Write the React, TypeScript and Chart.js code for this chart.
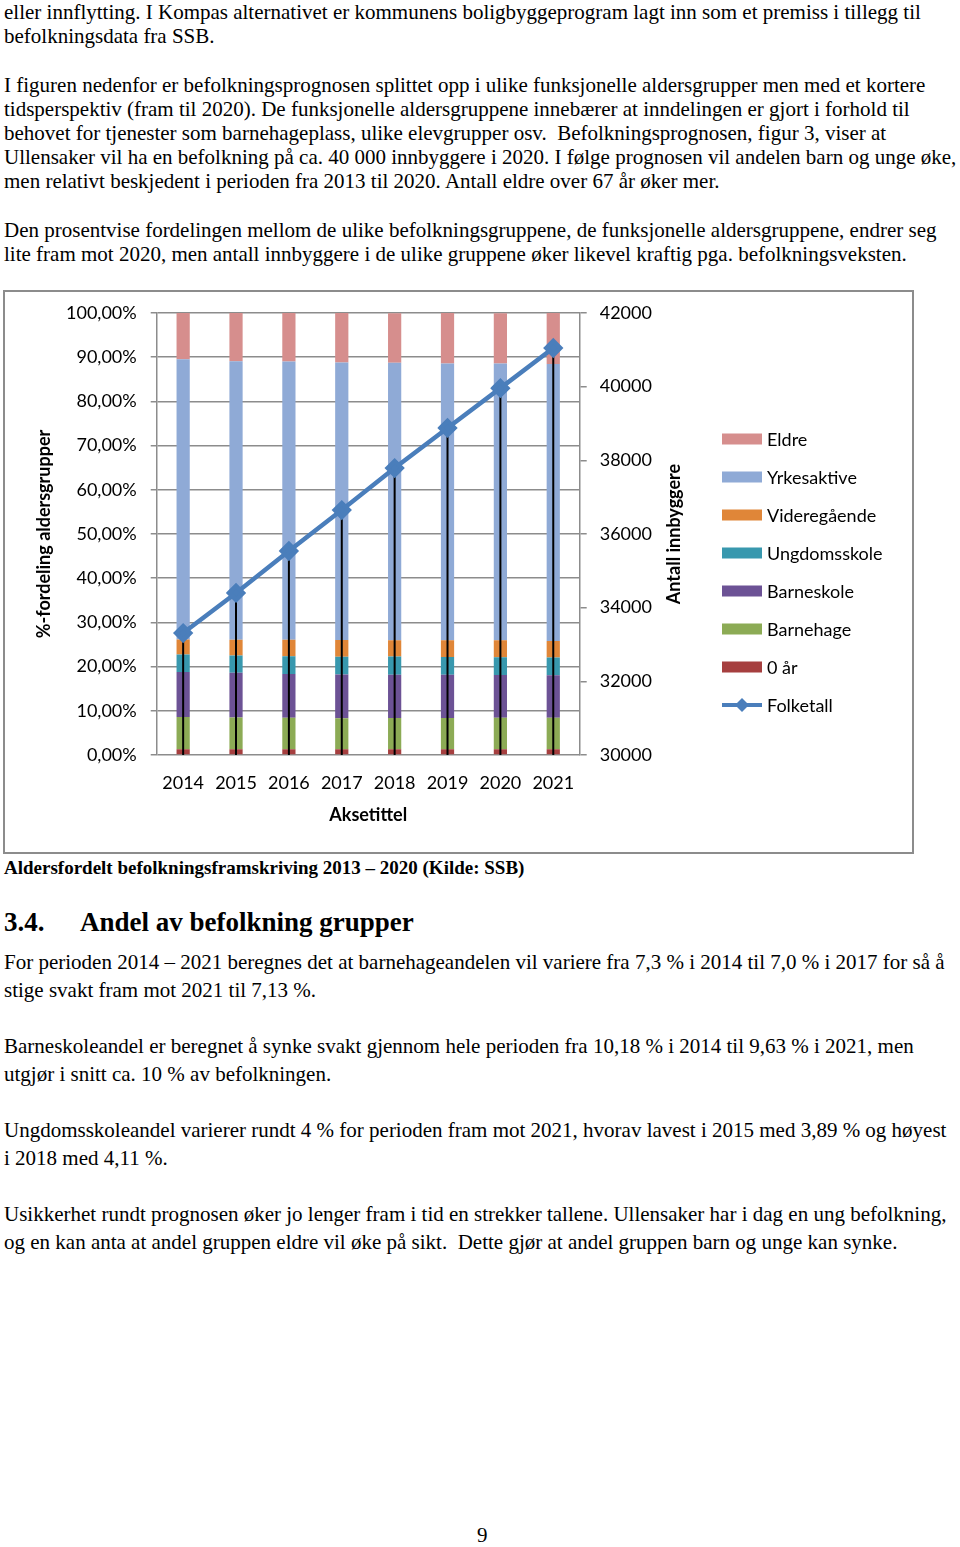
import React, { useEffect, useRef } from "react";
import { Chart, registerables } from "chart.js";

Chart.register(...registerables);

// ---------- data ----------
const years = ["2014", "2015", "2016", "2017", "2018", "2019", "2020", "2021"];
const nullAar = [1.3, 1.3, 1.3, 1.3, 1.3, 1.3, 1.3, 1.3];
const barnehage = [7.3, 7.2, 7.1, 7.0, 7.05, 7.08, 7.1, 7.13];
const barneskole = [10.18, 10.1, 9.95, 9.9, 9.8, 9.75, 9.7, 9.63];
const ungdomsskole = [3.95, 3.89, 4.0, 4.05, 4.11, 4.05, 4.0, 4.02];
const videregaaende = [3.4, 3.6, 3.75, 3.75, 3.7, 3.8, 3.85, 3.7];
const yrkesaktive = [63.4, 63.0, 62.9, 62.8, 62.8, 62.6, 62.6, 62.7];
const eldre = [10.5, 10.9, 11.0, 11.2, 11.2, 11.4, 11.4, 11.5];
const folketall = [33310, 34400, 35540, 36650, 37790, 38880, 39960, 41050];

const leftTitle = "%-fordeling aldersgrupper";
const rightTitle = "Antall innbyggere";
const xTitle = "Aksetittel";

const para1 = [
  "eller innflytting. I Kompas alternativet er kommunens boligbyggeprogram lagt inn som et premiss i tillegg til",
  "befolkningsdata fra SSB.",
];
const para2 = [
  "I figuren nedenfor er befolkningsprognosen splittet opp i ulike funksjonelle aldersgrupper men med et kortere",
  "tidsperspektiv (fram til 2020). De funksjonelle aldersgruppene innebærer at inndelingen er gjort i forhold til",
  "behovet for tjenester som barnehageplass, ulike elevgrupper osv.  Befolkningsprognosen, figur 3, viser at",
  "Ullensaker vil ha en befolkning på ca. 40 000 innbyggere i 2020. I følge prognosen vil andelen barn og unge øke,",
  "men relativt beskjedent i perioden fra 2013 til 2020. Antall eldre over 67 år øker mer.",
];
const para3 = [
  "Den prosentvise fordelingen mellom de ulike befolkningsgruppene, de funksjonelle aldersgruppene, endrer seg",
  "lite fram mot 2020, men antall innbyggere i de ulike gruppene øker likevel kraftig pga. befolkningsveksten.",
];
const caption = "Aldersfordelt befolkningsframskriving 2013 – 2020 (Kilde: SSB)";
const headingNum = "3.4.";
const headingText = "Andel av befolkning grupper";
const para4 = [
  "For perioden 2014 – 2021 beregnes det at barnehageandelen vil variere fra 7,3 % i 2014 til 7,0 % i 2017 for så å",
  "stige svakt fram mot 2021 til 7,13 %.",
];
const para5 = [
  "Barneskoleandel er beregnet å synke svakt gjennom hele perioden fra 10,18 % i 2014 til 9,63 % i 2021, men",
  "utgjør i snitt ca. 10 % av befolkningen.",
];
const para6 = [
  "Ungdomsskoleandel varierer rundt 4 % for perioden fram mot 2021, hvorav lavest i 2015 med 3,89 % og høyest",
  "i 2018 med 4,11 %.",
];
const para7 = [
  "Usikkerhet rundt prognosen øker jo lenger fram i tid en strekker tallene. Ullensaker har i dag en ung befolkning,",
  "og en kan anta at andel gruppen eldre vil øke på sikt.  Dette gjør at andel gruppen barn og unge kan synke.",
];

const COLORS = {
  nullAar: "#A63F3F",
  barnehage: "#8CAB55",
  barneskole: "#6C5295",
  ungdomsskole: "#3898AE",
  videregaaende: "#E08638",
  yrkesaktive: "#8FAAD6",
  eldre: "#D68E8D",
  line: "#4A7EBB",
  grid: "#8c8c8c",
};

const RIGHT_TITLE_OUT = 16.5;
const LEGEND_GAP = 21;
const LEGEND_SPACING = 38;

const dropLines = {
  id: "dropLines",
  beforeDatasetDraw(chart: any, args: any) {
    if (args.index !== 0) return;
    const meta = chart.getDatasetMeta(0);
    const bottom = chart.chartArea.bottom;
    const ctx = chart.ctx;
    ctx.save();
    ctx.strokeStyle = "#000";
    ctx.lineWidth = 2;
    meta.data.forEach((p: any) => {
      ctx.beginPath();
      ctx.moveTo(p.x, p.y);
      ctx.lineTo(p.x, bottom);
      ctx.stroke();
    });
    ctx.restore();
  },
};

const rightTitlePlugin = {
  id: "rightTitle",
  afterDraw(chart: any) {
    const s = chart.scales.y1;
    const ctx = chart.ctx;
    const area = chart.chartArea;
    ctx.save();
    ctx.font = "bold 18px Lato";
    ctx.fillStyle = "#000";
    ctx.textAlign = "center";
    ctx.textBaseline = "middle";
    ctx.translate(s.right - RIGHT_TITLE_OUT - 10.8, (area.top + area.bottom) / 2);
    ctx.rotate(-Math.PI / 2);
    ctx.fillText(rightTitle, 0, 0);
    ctx.restore();
  },
};

const legendPlugin = {
  id: "sideLegend",
  afterDraw(chart: any) {
    const ctx = chart.ctx;
    const s = chart.scales.y1;
    const boxLeft = s.right + LEGEND_GAP;
    const ds = chart.data.datasets.map((d: any, i: number) => ({ d, i })).reverse();
    const n = ds.length;
    const cy0 = chart.height / 2 - ((n - 1) / 2) * LEGEND_SPACING;
    ctx.save();
    ctx.font = "18px Lato";
    ctx.textBaseline = "middle";
    ctx.textAlign = "left";
    ds.forEach(({ d }: any, k: number) => {
      const cy = cy0 + k * LEGEND_SPACING;
      const color = d.backgroundColor as string;
      if (d.type === "line") {
        ctx.strokeStyle = color;
        ctx.lineWidth = 4;
        ctx.beginPath();
        ctx.moveTo(boxLeft, cy);
        ctx.lineTo(boxLeft + 40, cy);
        ctx.stroke();
        ctx.fillStyle = color;
        ctx.beginPath();
        ctx.moveTo(boxLeft + 20, cy - 7);
        ctx.lineTo(boxLeft + 27, cy);
        ctx.lineTo(boxLeft + 20, cy + 7);
        ctx.lineTo(boxLeft + 13, cy);
        ctx.closePath();
        ctx.fill();
      } else {
        ctx.fillStyle = color;
        ctx.fillRect(boxLeft, cy - 5.5, 40, 11);
      }
      ctx.fillStyle = "#000";
      ctx.fillText(d.label, boxLeft + 45, cy + 1);
    });
    ctx.restore();
  },
};

function ChartBox() {
  const ref = useRef<HTMLCanvasElement>(null);
  useEffect(() => {
    if (!ref.current) return;
    Chart.defaults.font.family = "Lato";
    Chart.defaults.font.size = 18;
    Chart.defaults.color = "#000";
    const barDs = (label: string, data: number[], color: string) => ({
      type: "bar" as const,
      label,
      data,
      backgroundColor: color,
      borderWidth: 0,
      yAxisID: "y",
      barPercentage: 0.25,
      categoryPercentage: 1,
    });
    const chart = new Chart(ref.current, {
      data: {
        labels: years,
        datasets: [
          {
            type: "line",
            label: "Folketall",
            data: folketall,
            yAxisID: "y1",
            borderColor: COLORS.line,
            backgroundColor: COLORS.line,
            borderWidth: 4.5,
            pointStyle: "rectRot",
            pointRadius: 7,
            pointBackgroundColor: COLORS.line,
            pointBorderColor: COLORS.line,
            tension: 0,
          } as any,
          barDs("0 år", nullAar, COLORS.nullAar),
          barDs("Barnehage", barnehage, COLORS.barnehage),
          barDs("Barneskole", barneskole, COLORS.barneskole),
          barDs("Ungdomsskole", ungdomsskole, COLORS.ungdomsskole),
          barDs("Videregående", videregaaende, COLORS.videregaaende),
          barDs("Yrkesaktive", yrkesaktive, COLORS.yrkesaktive),
          barDs("Eldre", eldre, COLORS.eldre),
        ],
      },
      options: {
        responsive: false,
        animation: false,
        layout: { padding: { left: 20, right: 211, top: 21, bottom: 26.2 } },
        plugins: {
          tooltip: { enabled: false },
          legend: { display: false },
        },
        scales: {
          x: {
            stacked: true,
            grid: { display: false, drawTicks: false },
            border: { display: false },
            ticks: { padding: 17, color: "#000", font: { size: 18 } },
            title: {
              display: true,
              text: xTitle,
              color: "#000",
              font: { size: 18, weight: "bold" },
              padding: { top: 10.6, bottom: 0 },
            },
            afterFit: (s: any) => {
              s.height -= 17;
            },
          },
          y: {
            stacked: true,
            position: "left",
            min: 0,
            max: 100,
            ticks: {
              stepSize: 10,
              padding: 14,
              color: "#000",
              font: { size: 18 },
              callback: (v: any) => Number(v).toFixed(2).replace(".", ",") + "%",
            },
            grid: { color: COLORS.grid, lineWidth: 1.5, tickLength: 6 },
            border: { color: COLORS.grid, width: 1.5 },
            title: {
              display: true,
              text: leftTitle,
              color: "#000",
              font: { size: 18, weight: "bold" },
              padding: { top: 8, bottom: 11.4 },
            },
            afterFit: (s: any) => {
              s.width -= 14;
              s.paddingTop = 11;
              s.paddingBottom = 11;
            },
          },
          y1: {
            position: "right",
            min: 30000,
            max: 42000,
            ticks: {
              stepSize: 2000,
              padding: 13,
              color: "#000",
              font: { size: 18 },
              callback: (v: any) => String(v),
            },
            grid: { drawOnChartArea: false, color: COLORS.grid, lineWidth: 1.5, tickLength: 7 },
            border: { color: COLORS.grid, width: 1.5 },
            title: {
              display: true,
              text: rightTitle,
              color: "rgba(0,0,0,0)",
              font: { size: 18, weight: "bold" },
              padding: { top: RIGHT_TITLE_OUT, bottom: 11 },
            },
            afterFit: (s: any) => {
              s.width -= 13;
              s.paddingTop = 11;
              s.paddingBottom = 11;
            },
          },
        },
      } as any,
      plugins: [dropLines, rightTitlePlugin, legendPlugin],
    } as any);
    return () => chart.destroy();
  }, []);
  return (
    <div
      style={{
        position: "absolute",
        left: 3,
        top: 290,
        width: 911,
        height: 564,
        border: "2px solid #8c8c8c",
        boxSizing: "border-box",
        background: "#fff",
      }}
    >
      <canvas ref={ref} width={907} height={560} style={{ position: "absolute", left: 0, top: 0 }} />
    </div>
  );
}

const serif = "'Liberation Serif', 'Times New Roman', serif";

function Block({ top, lines, lh, size = 21 }: { top: number; lines: string[]; lh: number; size?: number }) {
  return (
    <div
      style={{
        position: "absolute",
        left: 4,
        top,
        fontFamily: serif,
        fontSize: size,
        lineHeight: lh + "px",
        whiteSpace: "pre",
        color: "#000",
      }}
    >
      {lines.map((l, i) => (
        <div key={i}>{l}</div>
      ))}
    </div>
  );
}

export default function App() {
  return (
    <div style={{ position: "absolute", left: 0, top: 0, width: 960, height: 1547, background: "#fff" }}>
      <Block top={0} lines={para1} lh={24.2} />
      <Block top={72.6} lines={para2} lh={24.2} />
      <Block top={217.8} lines={para3} lh={24.2} />
      <ChartBox />
      <div
        style={{
          position: "absolute",
          left: 4,
          top: 856,
          fontFamily: serif,
          fontSize: 19,
          lineHeight: "23px",
          fontWeight: "bold",
          whiteSpace: "pre",
        }}
      >
        {caption}
      </div>
      <div
        style={{
          position: "absolute",
          left: 4,
          top: 906,
          fontFamily: serif,
          fontSize: 27,
          lineHeight: "32px",
          fontWeight: "bold",
          whiteSpace: "pre",
        }}
      >
        {headingNum}
      </div>
      <div
        style={{
          position: "absolute",
          left: 80,
          top: 906,
          fontFamily: serif,
          fontSize: 27,
          lineHeight: "32px",
          fontWeight: "bold",
          whiteSpace: "pre",
        }}
      >
        {headingText}
      </div>
      <Block top={948} lines={para4} lh={28} />
      <Block top={1032} lines={para5} lh={28} />
      <Block top={1116} lines={para6} lh={28} />
      <Block top={1200} lines={para7} lh={28} />
      <div
        style={{
          position: "absolute",
          left: 477,
          top: 1523,
          fontFamily: serif,
          fontSize: 21,
          lineHeight: "24px",
        }}
      >
        9
      </div>
    </div>
  );
}
